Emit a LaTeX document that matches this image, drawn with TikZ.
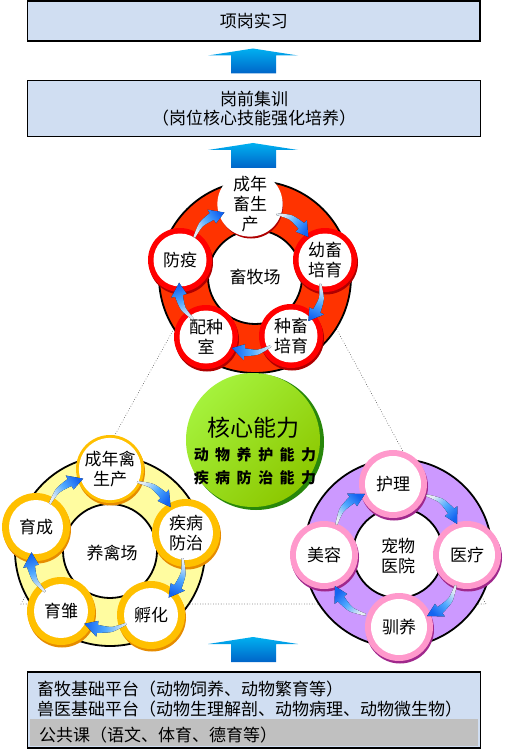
\documentclass[tikz,border=0pt]{standalone}
\usepackage{fontspec}
\setmainfont{Noto Sans CJK SC}
\usetikzlibrary{calc}
\definecolor{boxblue}{RGB}{208,222,242}
\definecolor{grayfill}{RGB}{192,192,192}
\definecolor{ringred}{RGB}{255,51,0}
\definecolor{circred}{RGB}{255,0,0}
\definecolor{shadred}{RGB}{175,0,0}
\definecolor{ringyellow}{RGB}{255,252,160}
\definecolor{circyellow}{RGB}{255,192,0}
\definecolor{shadyellow}{RGB}{230,140,0}
\definecolor{ringpurple}{RGB}{204,153,255}
\definecolor{circpink}{RGB}{255,153,204}
\definecolor{shadpink}{RGB}{160,40,140}
\definecolor{greenlight}{RGB}{165,242,60}
\definecolor{greendark}{RGB}{140,200,0}
\definecolor{greenrim}{RGB}{40,135,10}
\definecolor{arrlight}{RGB}{228,236,244}
\definecolor{arrmid}{RGB}{80,170,255}
\definecolor{arrblue}{RGB}{20,100,240}
\definecolor{blocktop}{RGB}{0,176,240}
\definecolor{blockbot}{RGB}{0,100,200}
\tikzset{
  txt/.style={font=\fontsize{17}{20}\selectfont, inner sep=0pt, align=center},
  boxstyle/.style={draw=black, line width=1.3pt, fill=boxblue},
  ringline/.style={draw=black, line width=1.8pt},
  tri/.style={draw=black!70, line width=0.6pt, dotted},
}
% curved arrow: cx, cy, R, start angle, end angle (screen-clockwise angles)
\newcommand{\carrow}[5]{%
  \begin{scope}[shift={(#1,#2)}]
  \pgfmathsetmacro\ta{#4}
  \pgfmathsetmacro\te{#5}
  \pgfmathsetmacro\tq{\ta+0.35*(\te-\ta)}
  \pgfmathsetmacro\th{\ta+0.68*(\te-\ta)}
  \pgfmathsetmacro\sa{-180-0.5*(\ta+\te)}
  \fill[top color=arrblue, bottom color=arrlight, middle color=arrmid, shading angle=\sa]
    plot[smooth] coordinates {(\ta:#3-1) (\tq:#3+4) (\th:#3+5.5)}
    -- (\th:#3+9.5) -- (\te:#3-0.5) -- (\th:#3-6.5)
    -- plot[smooth] coordinates {(\th:#3-2.5) (\tq:#3-1) (\ta:#3-3)} -- cycle;
  \end{scope}}
% circle node: name, x, y, outer r, white diameter, border colour, shadow colour, text
\newcommand{\ringnode}[8]{%
  \fill[#7] (#2+1,#3+2.5) circle (#4);
  \fill[#6] (#2,#3) circle (#4);
  \node[circle, fill=white, inner sep=0pt, minimum size=#5, txt] (#1) at (#2,#3) {#8};}
% block up arrow: apex y
\newcommand{\blockup}[1]{%
  \shade[top color=blocktop, bottom color=blockbot]
    (253,#1) -- (298,#1+7) -- (276,#1+7) -- (276,#1+25) -- (231,#1+25) -- (231,#1+7) -- (208,#1+7) -- cycle;}
\newcommand{\gsp}{\hspace{6.5pt}}
\begin{document}
\begin{tikzpicture}[x=1pt,y=-1pt]
\useasboundingbox (0,0) rectangle (505,751);
\fill[white] (0,0) rectangle (505,751);

% dotted triangle
\coordinate (tA) at (256,181);
\coordinate (tB) at (21,604);
\coordinate (tC) at (486,604);
\draw[tri] (tA) -- (tB) -- (tC) -- cycle;

% red ring
\filldraw[ringline, fill=ringred] (255,277) circle (96);
\filldraw[ringline, fill=white] (255,277) circle (47);
\node[txt] (xmc) at (255,277) {畜牧场};
\ringnode{r1}{250}{204}{32}{53}{circred}{shadred}{成年\\畜生\\产}
\ringnode{r2}{325}{260}{32}{53}{circred}{shadred}{幼畜\\培育}
\ringnode{r3}{291}{336}{32}{53}{circred}{shadred}{种畜\\培育}
\ringnode{r4}{206}{337}{32}{53}{circred}{shadred}{配种\\室}
\ringnode{r5}{180}{260}{32}{53}{circred}{shadred}{防疫}
\foreach \m in {-52,20,89,161,232.5} {\carrow{250.5}{279}{72}{\m-16}{\m+16}}

% yellow ring
\filldraw[ringline, fill=ringyellow] (110,551) circle (95);
\filldraw[ringline, fill=white] (110,551) circle (47);
\node[txt] (yqc) at (112,553) {养禽场};
\ringnode{y1}{110}{469}{34}{54}{circyellow}{shadyellow}{成年禽\\生产}
\ringnode{y2}{186}{533}{34}{54}{circyellow}{shadyellow}{疾病\\防治}
\ringnode{y3}{151}{615}{34}{54}{circyellow}{shadyellow}{孵化}
\ringnode{y4}{61}{611}{34}{54}{circyellow}{shadyellow}{育雏}
\ringnode{y5}{36}{527}{34}{54}{circyellow}{shadyellow}{育成}
\foreach \m in {-51,21.5,92,163,235} {\carrow{108}{551}{77}{\m-16}{\m+16}}

% purple ring
\filldraw[ringline, fill=ringpurple] (398,553) circle (94);
\filldraw[ringline, fill=white] (398,553) circle (45);
\node[txt] (cwyy) at (398,556) {宠物\\医院};
\ringnode{p1}{393}{484}{34}{56}{circpink}{shadpink}{护理}
\ringnode{p2}{467}{555}{34}{56}{circpink}{shadpink}{医疗}
\ringnode{p3}{399}{627}{34}{56}{circpink}{shadpink}{驯养}
\ringnode{p4}{324}{555}{34}{56}{circpink}{shadpink}{美容}
\foreach \m in {-45,45,135,225} {\carrow{396}{555}{69}{\m-18}{\m+18}}

% green core circle
\fill[greenrim] (256,442) circle (68);
\shade[top color=greenlight, bottom color=greendark, shading angle=45] (253,440) circle (67);
\node[inner sep=0pt, font=\fontsize{23}{26}\selectfont] (core) at (253,428) {核心能力};
\node[inner sep=0pt, font=\fontsize{15}{18}\selectfont\bfseries] (core1) at (255,455) {动\gsp 物\gsp 养\gsp 护\gsp 能\gsp 力};
\node[inner sep=0pt, font=\fontsize{15}{18}\selectfont\bfseries] (core2) at (255,478) {疾\gsp 病\gsp 防\gsp 治\gsp 能\gsp 力};

% block arrows
\blockup{48.5}
\blockup{143}
\blockup{637}

% boxes
\node[boxstyle, minimum width=452.5, minimum height=40, txt] (top) at (253.75,21) {项岗实习};
\node[boxstyle, minimum width=453, minimum height=56, txt, font=\fontsize{17}{18.5}\selectfont] (pre) at (254,108.5) {岗前集训\\（岗位核心技能强化培养）};
\node[boxstyle, minimum width=453, minimum height=76] (base) at (254,710) {};
\fill[grayfill] (30,719) rectangle (478,746);
\node[txt, anchor=west] (b1) at (37,689) {畜牧基础平台（动物饲养、动物繁育等）};
\node[txt, anchor=west] (b2) at (37,709) {兽医基础平台（动物生理解剖、动物病理、动物微生物）};
\node[txt, anchor=west] (b3) at (39,735) {公共课（语文、体育、德育等）};
\end{tikzpicture}
\end{document}
